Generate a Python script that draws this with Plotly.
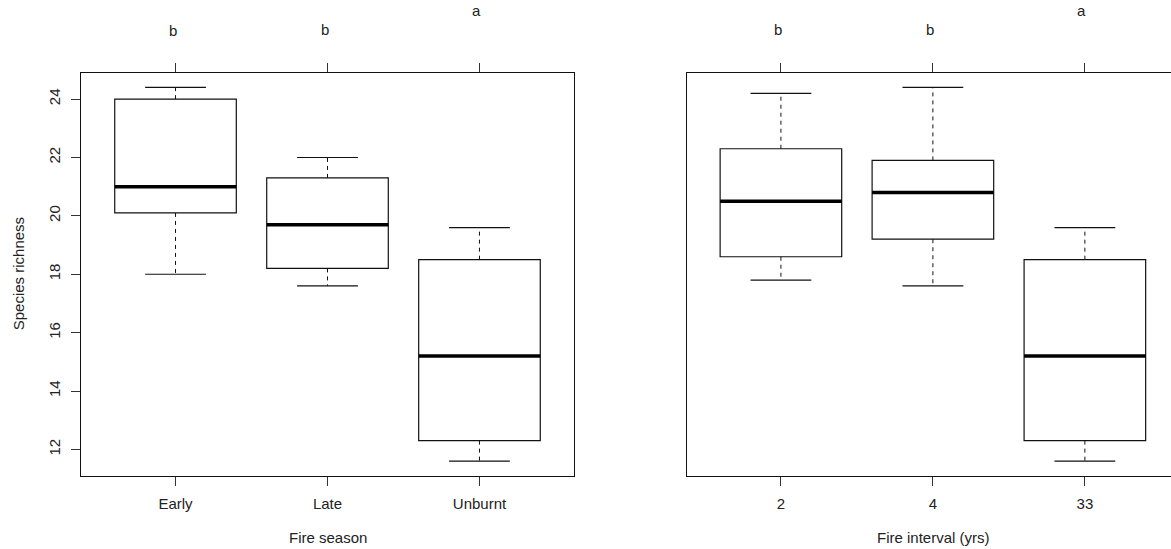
import plotly.graph_objects as go

# ---- data ----
season_labels = ["Early", "Late", "Unburnt"]
season_lower = [18.0, 17.6, 11.6]
season_q1 = [20.1, 18.2, 12.3]
season_median = [21.0, 19.7, 15.2]
season_q3 = [24.0, 21.3, 18.5]
season_upper = [24.4, 22.0, 19.6]
season_letters = ["b", "b", "a"]

interval_labels = ["2", "4", "33"]
interval_lower = [17.8, 17.6, 11.6]
interval_q1 = [18.6, 19.2, 12.3]
interval_median = [20.5, 20.8, 15.2]
interval_q3 = [22.3, 21.9, 18.5]
interval_upper = [24.2, 24.4, 19.6]
interval_letters = ["b", "b", "a"]

y_ticks = [12, 14, 16, 18, 20, 22, 24]

# ---- layout constants ----
W, H = 1171, 549
FONT = "Liberation Sans, Arial, sans-serif"
TXT = "#222222"
LINE = "#111111"
# pixel heights (from top) of the letter centres
season_letter_px = [31, 29, 11]
interval_letter_px = [29, 29, 11]
YR = [11.088, 24.912]
L_X0, L_X1, R_X0 = 81.3, 573.7, 686.7
px_per_unit = (L_X1 - L_X0) / 3.24

fig = go.Figure()


def add_panel(xa, ya, lo, q1, med, q3, hi):
    xs = [i + 1 for i in range(len(med))]
    fig.add_trace(go.Box(
        x=xs, q1=q1, median=med, q3=q3, lowerfence=q1, upperfence=q3,
        width=0.8, whiskerwidth=0, fillcolor="white", boxpoints=False,
        line=dict(color=LINE, width=1.2), xaxis=xa, yaxis=ya,
        showlegend=False, hoverinfo="skip"))
    for i, x in enumerate(xs):
        fig.add_trace(go.Scatter(
            x=[x, x, None, x, x], y=[q3[i], hi[i], None, q1[i], lo[i]],
            mode="lines", line=dict(color=LINE, width=1, dash="4px,4px"),
            xaxis=xa, yaxis=ya, showlegend=False, hoverinfo="skip"))
        fig.add_trace(go.Scatter(
            x=[x - 0.2, x + 0.2, None, x - 0.2, x + 0.2],
            y=[hi[i], hi[i], None, lo[i], lo[i]],
            mode="lines", line=dict(color=LINE, width=1.2),
            xaxis=xa, yaxis=ya, showlegend=False, hoverinfo="skip"))
        fig.add_trace(go.Scatter(
            x=[x - 0.4, x + 0.4], y=[med[i], med[i]],
            mode="lines", line=dict(color="black", width=3.5),
            xaxis=xa, yaxis=ya, showlegend=False, hoverinfo="skip"))


add_panel("x", "y", season_lower, season_q1, season_median, season_q3, season_upper)
add_panel("x2", "y2", interval_lower, interval_q1, interval_median, interval_q3, interval_upper)

FS = 15
tickfont = dict(family=FONT, size=FS, color=TXT)
ydom = [1 - 476.0 / H, 1 - 72.5 / H]
common_x = dict(
    tickvals=[1, 2, 3], ticks="outside", ticklen=9, tickwidth=1, tickcolor="#333",
    showline=True, linecolor=LINE, linewidth=1, mirror="ticks",
    showgrid=False, zeroline=False, tickfont=tickfont, ticklabelstandoff=5)

fig.update_layout(
    width=W, height=H, margin=dict(l=0, r=0, t=0, b=0),
    paper_bgcolor="white", plot_bgcolor="white", showlegend=False,
    xaxis=dict(domain=[L_X0 / W, L_X1 / W], range=[0.38, 3.62],
               ticktext=season_labels, anchor="y", **common_x),
    xaxis2=dict(domain=[R_X0 / W, 1.0],
                range=[0.38, 0.38 + (W - R_X0) / px_per_unit],
                ticktext=interval_labels, anchor="y2", **common_x),
    yaxis=dict(domain=ydom, range=YR, tickvals=y_ticks, ticks="outside",
               ticklen=9, tickwidth=1, tickcolor="#333", tickangle=-90,
               showline=True, linecolor=LINE, linewidth=1, mirror=True,
               showgrid=False, zeroline=False, tickfont=tickfont, anchor="x",
               ticklabelstandoff=5),
    yaxis2=dict(domain=ydom, range=YR, showticklabels=False, ticks="",
                showline=True, linecolor=LINE, linewidth=1, mirror=False,
                showgrid=False, zeroline=False, anchor="x2"),
)


def px_x(panel_x0, i):
    return (panel_x0 + (i + 1 - 0.38) * px_per_unit) / W


def label(x, y, text, angle=0, xshift=0):
    return dict(x=x, y=y, xref="paper", yref="paper", text=text,
                textangle=angle, showarrow=False, xanchor="center",
                yanchor="middle", xshift=xshift,
                font=dict(family=FONT, size=FS, color=TXT))


ann = []
for i, (t, yp) in enumerate(zip(season_letters, season_letter_px)):
    ann.append(label(px_x(L_X0, i), 1 - yp / H, t, xshift=-3))
for i, (t, yp) in enumerate(zip(interval_letters, interval_letter_px)):
    ann.append(label(px_x(R_X0, i), 1 - yp / H, t, xshift=-3))
ann.append(label(18.3 / W, 1 - 274 / H, "Species richness", angle=-90))
ann.append(label(327.5 / W, 1 - 537 / H, "Fire season"))
ann.append(label(933 / W, 1 - 537 / H, "Fire interval (yrs)"))
fig.update_layout(annotations=ann)

fig.write_html(
    "out.html",
    config={"displayModeBar": False},
    post_script="document.body.style.margin='0';document.body.style.overflow='hidden';",
)
